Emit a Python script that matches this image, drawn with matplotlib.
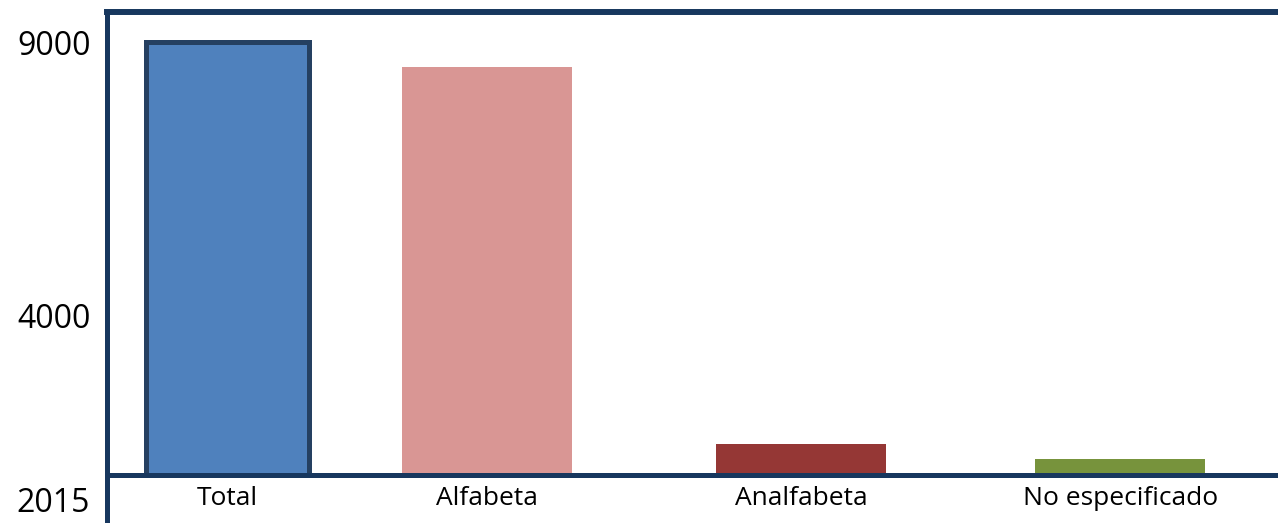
import matplotlib
matplotlib.use("Agg")
import matplotlib.pyplot as plt

plt.rcParams['font.family'] = ['Open Sans', 'DejaVu Sans']

# data
categories = ["Total", "Alfabeta", "Analfabeta", "No especificado"]
values = [9000, 8550, 1660, 1390]
ytick_vals = [4000, 9000]
ytick_labels = ["4000", "9000"]
year_label = "2015"

# layout
xpos = [0.0, 0.873, 1.928, 3.0]
bar_colors = ["#4f81bd", "#d99694", "#953735", "#77933c"]
navy = "#17375e"

fig = plt.figure(figsize=(12.78, 5.23), dpi=100)
ax = fig.add_axes([0.0841, 0.0927, 1.0 - 0.0841, 0.9771 - 0.0927])

bars = ax.bar(xpos, values, width=0.571, color=bar_colors, zorder=2)
# Total bar has a dark outline
bars[0].set_edgecolor("#254061")
bars[0].set_linewidth(3.6)
bars[0].set_width(0.55)
bars[0].set_x(xpos[0] - 0.275)

ax.set_xlim(-0.403, 3.53)
ax.set_ylim(1102, 9558)

ax.set_xticks(xpos)
ax.set_xticklabels(categories, fontsize=19)
ax.set_yticks(ytick_vals)
ax.set_yticklabels(ytick_labels, fontsize=23)
ax.tick_params(axis="x", length=0, pad=8)
ax.tick_params(axis="y", length=0, pad=12)

ax.spines["right"].set_visible(False)
ax.spines["top"].set_color(navy)
ax.spines["top"].set_linewidth(4.3)
ax.spines["left"].set_color(navy)
ax.spines["left"].set_linewidth(3.6)
ax.spines["bottom"].set_color(navy)
ax.spines["bottom"].set_linewidth(3.6)
ax.spines["bottom"].set_zorder(3)

# left axis line continues below the baseline
ax.plot([0, 0], [0, -0.12], transform=ax.transAxes, color=navy,
        lw=3.6, clip_on=False, solid_capstyle="butt")
ax.text(-0.0155, -0.062, year_label, transform=ax.transAxes,
        ha="right", va="center", fontsize=23)

fig.savefig("out.png", dpi=100)
